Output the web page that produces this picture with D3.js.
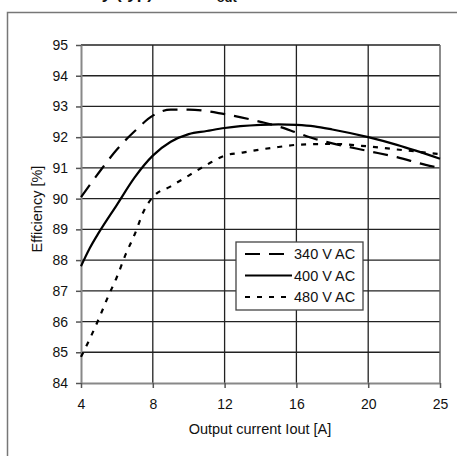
<!DOCTYPE html>
<html>
<head>
<meta charset="utf-8">
<script src="https://cdn.jsdelivr.net/npm/d3@7"></script>
<style>
  body { margin: 0; background: #fff; }
  text { font-family: "Liberation Sans", Arial, sans-serif; fill: #111; }
</style>
</head>
<body>
<div id="chart"></div>
<script>
var xTicks = [4, 8, 12, 16, 20, 25];
var yTicks = [84, 85, 86, 87, 88, 89, 90, 91, 92, 93, 94, 95];

var current340 = [4, 5, 6, 7, 8, 9, 10, 12, 14, 15, 16, 17, 18, 20, 22, 24, 25];
var eff340 = [90.05, 90.85, 91.6, 92.2, 92.7, 92.9, 92.9, 92.75, 92.5, 92.35, 92.15, 91.95, 91.8, 91.55, 91.35, 91.1, 91.0];

var current400 = [4, 4.5, 5, 6, 7, 8, 9, 10, 11, 12, 14, 15, 16, 17, 18, 20, 22, 25];
var eff400 = [87.8, 88.4, 88.9, 89.8, 90.7, 91.4, 91.85, 92.1, 92.2, 92.3, 92.4, 92.42, 92.4, 92.35, 92.25, 92.0, 91.75, 91.3];

var current480 = [4, 4.5, 5, 5.5, 6, 6.5, 7, 7.5, 8, 9, 10, 11, 12, 13, 14, 15, 16, 18, 20, 22, 25];
var eff480 = [84.85, 85.45, 86.1, 86.8, 87.45, 88.2, 88.85, 89.6, 90.05, 90.4, 90.75, 91.1, 91.4, 91.5, 91.6, 91.68, 91.75, 91.78, 91.7, 91.6, 91.45];

var seriesNames = ["340 V AC", "400 V AC", "480 V AC"];
var dashes = ["15,9", null, "5,7"];

var width = 457, height = 456;
var plotLeft = 81, plotRight = 440, plotTop = 45, plotBottom = 383;

var svg = d3.select("#chart").append("svg")
    .attr("width", width)
    .attr("height", height);

// cut-off title at the very top
var title = svg.append("text")
    .attr("x", 31)
    .attr("y", -1)
    .style("font-size", "17px")
    .style("font-weight", "bold");
title.append("tspan").text("Efficiency (typ) vs. I");
title.append("tspan").attr("dx", 26).attr("dy", 3).style("font-size", "13px").text("out");

// outer frame
svg.append("rect")
    .attr("x", 7.5).attr("y", 12.5)
    .attr("width", 470).attr("height", 470)
    .style("fill", "none")
    .style("stroke", "#777")
    .style("stroke-width", 1.5);

var range = xTicks.map(function (d, i) { return plotLeft + i * (plotRight - plotLeft) / (xTicks.length - 1); });
var x = d3.scaleLinear().domain(xTicks).range(range);
var y = d3.scaleLinear().domain([84, 95]).range([plotBottom, plotTop]);

// horizontal grid
svg.append("g").selectAll("line")
    .data(yTicks.slice(1))
    .enter().append("line")
    .attr("x1", plotLeft).attr("x2", plotRight)
    .attr("y1", function (d) { return y(d); })
    .attr("y2", function (d) { return y(d); })
    .style("stroke", "#222")
    .style("stroke-width", 1.3);

// vertical grid
svg.append("g").selectAll("line")
    .data(xTicks.slice(1, -1))
    .enter().append("line")
    .attr("x1", function (d) { return x(d); })
    .attr("x2", function (d) { return x(d); })
    .attr("y1", plotTop).attr("y2", plotBottom)
    .style("stroke", "#222")
    .style("stroke-width", 1.3);

// right border
svg.append("line")
    .attr("x1", plotRight).attr("x2", plotRight)
    .attr("y1", plotTop).attr("y2", plotBottom)
    .style("stroke", "#666")
    .style("stroke-width", 1.5);

// axes
var yAxis = svg.append("g")
    .attr("transform", "translate(" + plotLeft + ",0)")
    .call(d3.axisLeft(y).tickValues(yTicks).tickSize(5).tickPadding(8).tickSizeOuter(0));
var xAxis = svg.append("g")
    .attr("transform", "translate(0," + plotBottom + ")")
    .call(d3.axisBottom(x).tickValues(xTicks).tickSize(5).tickPadding(11).tickSizeOuter(0));

[yAxis, xAxis].forEach(function (ax) {
  ax.select(".domain").style("stroke", "#888").style("stroke-width", 2);
  ax.selectAll(".tick line").style("stroke", "#555").style("stroke-width", 1.5);
  ax.selectAll(".tick text")
    .style("font-size", "14px")
    .style("font-family", "'Liberation Sans', Arial, sans-serif")
    .style("fill", "#111");
});

// axis titles
svg.append("text")
    .attr("x", 260).attr("y", 434)
    .attr("text-anchor", "middle")
    .style("font-size", "14.5px")
    .text("Output current Iout [A]");

svg.append("text")
    .attr("transform", "translate(42,209) rotate(-90)")
    .attr("text-anchor", "middle")
    .style("font-size", "14.5px")
    .text("Efficiency [%]");

// curves
var line = d3.line()
    .x(function (d) { return x(d[0]); })
    .y(function (d) { return y(d[1]); })
    .curve(d3.curveMonotoneX);

var series = [
  d3.zip(current340, eff340),
  d3.zip(current400, eff400),
  d3.zip(current480, eff480)
];

svg.append("g").selectAll("path")
    .data(series)
    .enter().append("path")
    .attr("d", line)
    .style("fill", "none")
    .style("stroke", "#000")
    .style("stroke-width", 2.2)
    .style("stroke-dasharray", function (d, i) { return dashes[i]; });

// legend
var legend = svg.append("g");
legend.append("rect")
    .attr("x", 236).attr("y", 242)
    .attr("width", 127).attr("height", 68)
    .style("fill", "#fff")
    .style("stroke", "#444")
    .style("stroke-width", 1.3);

var rows = legend.selectAll(".row")
    .data(seriesNames)
    .enter().append("g")
    .attr("transform", function (d, i) { return "translate(0," + (254 + i * 21.5) + ")"; });

rows.append("line")
    .attr("x1", 245).attr("x2", 292)
    .style("stroke", "#000")
    .style("stroke-width", 2.2)
    .style("stroke-dasharray", function (d, i) { return dashes[i]; });

rows.append("text")
    .attr("x", 294).attr("y", 5)
    .style("font-size", "14.5px")
    .text(function (d) { return d; });
</script>
</body>
</html>
